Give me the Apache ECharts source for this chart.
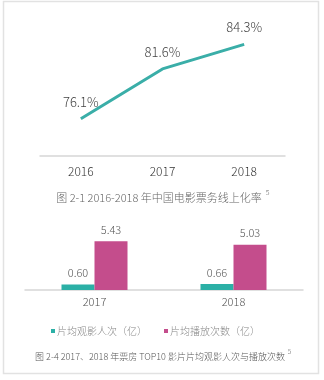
<!DOCTYPE html>
<html><head><meta charset="utf-8">
<script src="https://cdn.jsdelivr.net/npm/echarts@6/dist/echarts.min.js"></script>
<style>html,body{margin:0;padding:0;background:#fff}#c{width:324px;height:380px}</style>
</head><body><div id="c"></div>
<script>
const lineYears = ['2016', '2017', '2018'];
const onlineRate = [76.1, 81.6, 84.3];
const barYears = ['2017', '2018'];
const avgAudience = [0.60, 0.66];
const avgPlays = [5.43, 5.03];
const seriesNames = ['片均观影人次（亿）', '片均播放次数（亿）'];
const caption1 = '图 2-1 2016-2018 年中国电影票务线上化率';
const caption2 = '图 2-4 2017、2018 年票房 TOP10 影片片均观影人次与播放次数';
const footnote = '5';

const FONT = '"Noto Sans CJK SC", "Noto Sans", sans-serif';
const ctx = document.createElement('canvas').getContext('2d');
function w(text, size) { ctx.font = '300 ' + size + 'px ' + FONT; return ctx.measureText(text).width; }
const c1Size = 11, c2Size = 9;
const c1W = w(caption1, c1Size), c2W = w(caption2, c2Size);
const c1L = (324 - c1W) / 2 - 3, c2L = (324 - c2W) / 2 - 2;

const chart = echarts.init(document.getElementById('c'), null, {renderer: 'canvas'});
chart.setOption({
  backgroundColor: '#fff',
  textStyle: {fontFamily: FONT, fontWeight: 300},
  animation: false,
  graphic: [
    {type: 'rect', shape: {x: 3.5, y: 1.5, width: 315, height: 372}, style: {fill: 'none', stroke: '#e2e2e2', lineWidth: 1.5}},
    {type: 'text', x: c1L, y: 192, style: {text: caption1, font: '300 ' + c1Size + 'px ' + FONT, fill: '#666'}},
    {type: 'text', x: c1L + c1W + 4, y: 189, style: {text: footnote, font: '300 7px ' + FONT, fill: '#666'}},
    {type: 'text', x: c2L, y: 352, style: {text: caption2, font: '300 ' + c2Size + 'px ' + FONT, fill: '#555'}},
    {type: 'text', x: c2L + c2W + 3, y: 349, style: {text: footnote, font: '300 6px ' + FONT, fill: '#555'}}
  ],
  legend: {
    data: seriesNames,
    top: 321, left: 46,
    icon: 'rect', itemWidth: 4, itemHeight: 4, itemGap: 17,
    textStyle: {fontSize: 10, color: '#888', fontWeight: 300, fontFamily: FONT, padding: [0, 0, 0, -3]}
  },
  grid: [
    {left: 40, right: 39, top: 29, bottom: 224},
    {left: 25, right: 21, top: 236, bottom: 90}
  ],
  xAxis: [
    {type: 'category', gridIndex: 0, data: lineYears,
     axisLine: {lineStyle: {color: '#d6d6d6', width: 1.5}}, axisTick: {show: false},
     axisLabel: {fontSize: 12, color: '#333', margin: 9, fontWeight: 300, fontFamily: FONT}},
    {type: 'category', gridIndex: 1, data: barYears,
     axisLine: {lineStyle: {color: '#d6d6d6', width: 1.5}}, axisTick: {show: false},
     axisLabel: {fontSize: 11, color: '#555', margin: 6, fontWeight: 300, fontFamily: FONT}}
  ],
  yAxis: [
    {type: 'value', gridIndex: 0, min: 72, max: 86, show: false},
    {type: 'value', gridIndex: 1, min: 0, max: 6, show: false}
  ],
  series: [
    {type: 'line', xAxisIndex: 0, yAxisIndex: 0, data: onlineRate,
     symbol: 'circle', symbolSize: 1, showSymbol: true, itemStyle: {opacity: 0},
     lineStyle: {color: '#3aaea8', width: 3},
     label: {show: true, position: 'top', distance: 10, formatter: p => p.value.toFixed(1) + '%', fontSize: 13, color: '#444', fontWeight: 300, fontFamily: FONT, opacity: 1}},
    {type: 'bar', name: seriesNames[0], xAxisIndex: 1, yAxisIndex: 1, data: avgAudience,
     barWidth: 33, barGap: '0%', itemStyle: {color: '#2bb0a6'},
     label: {show: true, position: 'top', distance: 6, formatter: p => p.value.toFixed(2), fontSize: 11, color: '#555', fontWeight: 300, fontFamily: FONT}},
    {type: 'bar', name: seriesNames[1], xAxisIndex: 1, yAxisIndex: 1, data: avgPlays,
     barWidth: 33, barGap: '0%', itemStyle: {color: '#c44d8c'},
     label: {show: true, position: 'top', distance: 6, formatter: p => p.value.toFixed(2), fontSize: 11, color: '#555', fontWeight: 300, fontFamily: FONT}}
  ]
});
</script></body></html>
